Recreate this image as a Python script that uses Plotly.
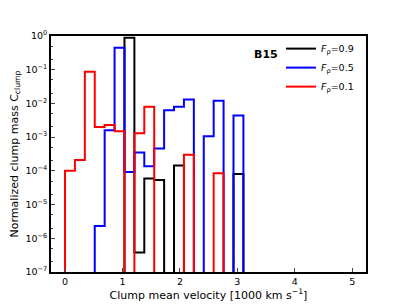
import plotly.graph_objects as go

# Histogram bins (1000 km/s), bin width
bin_width = 0.1725
n_bins = 18
edges = [k * bin_width for k in range(n_bins + 1)]

# Normalized clump mass per bin (0 = empty bin)
vals_09 = [0, 0, 0, 0, 0, 0, 0.88, 3.8e-7, 5.9e-5, 5.4e-5, 0, 1.45e-4, 0, 0, 0, 0, 0, 8e-5]
vals_05 = [0, 0, 0, 2.3e-6, 1.6e-3, 0.45, 9.3e-5, 3.5e-4, 1.38e-4, 4.6e-4, 6.3e-3, 8e-3,
           1.3e-2, 0, 1.07e-3, 1.2e-2, 0, 4.4e-3]
vals_01 = [1e-4, 2.1e-4, 8.7e-2, 2.0e-3, 2.3e-3, 1.5e-3, 0, 1.3e-3, 8e-3, 0, 0, 0,
           3e-4, 0, 0, 8.5e-5, 0, 0]

series = [
    ("<i>F</i><sub>ρ</sub>=0.9", vals_09, "black"),
    ("<i>F</i><sub>ρ</sub>=0.5", vals_05, "blue"),
    ("<i>F</i><sub>ρ</sub>=0.1", vals_01, "red"),
]

ytick_exp = list(range(-7, 1))
ytick_text = ["10<sup>%s</sup>" % (str(e).replace("-", "−")) for e in ytick_exp]
xtick_vals = [0, 1, 2, 3, 4, 5]

FLOOR = 1e-12


def step_outline(vals):
    xs, ys = [edges[0]], [FLOOR]
    for i, v in enumerate(vals):
        vv = v if v > 0 else FLOOR
        xs += [edges[i], edges[i + 1]]
        ys += [vv, vv]
    xs.append(edges[-1])
    ys.append(FLOOR)
    return xs, ys


fig = go.Figure()
for name, vals, color in series:
    xs, ys = step_outline(vals)
    fig.add_trace(go.Scatter(x=xs, y=ys, mode="lines", name=name,
                             line=dict(color=color, width=2)))

font = "DejaVu Sans"
# page body adds an 8 px offset, so the figure is 8 px smaller and margins shifted
fig.update_layout(
    width=399, height=297,
    margin=dict(l=43, r=41, t=28, b=33),
    paper_bgcolor="white", plot_bgcolor="white",
    font=dict(family=font, size=9.5, color="black"),
    showlegend=True,
    legend=dict(x=0.73, y=1.008, xanchor="left", yanchor="top",
                bgcolor="rgba(0,0,0,0)", font=dict(size=9.5),
                itemwidth=30, tracegroupgap=0),
    annotations=[dict(text="<b>B15</b>", x=0.683, y=0.92, xref="paper", yref="paper",
                      xanchor="center", yanchor="middle",
                      showarrow=False, font=dict(size=11, family=font))],
)
fig.update_xaxes(
    range=[-0.244, 5.239], tickvals=xtick_vals, ticks="inside", ticklen=4,
    tickwidth=1.2, showline=True, linecolor="black", linewidth=1.5, mirror=True,
    showgrid=False, zeroline=False, automargin=False,
    title=dict(text="Clump mean velocity [1000 km s<sup>−1</sup>]", standoff=4),
)
fig.update_yaxes(
    type="log", range=[-7, 0], tickvals=[10 ** e for e in ytick_exp], ticktext=ytick_text,
    ticks="inside", ticklen=4, tickwidth=1.2,
    minor=dict(ticks="inside", ticklen=2, tickwidth=0.8, showgrid=False),
    showline=True, linecolor="black", linewidth=1.5, mirror=True,
    showgrid=False, zeroline=False, automargin=False,
    title=dict(text="Normalized clump mass C<sub>clump</sub>", standoff=7),
)

fig.write_html("out.html")
